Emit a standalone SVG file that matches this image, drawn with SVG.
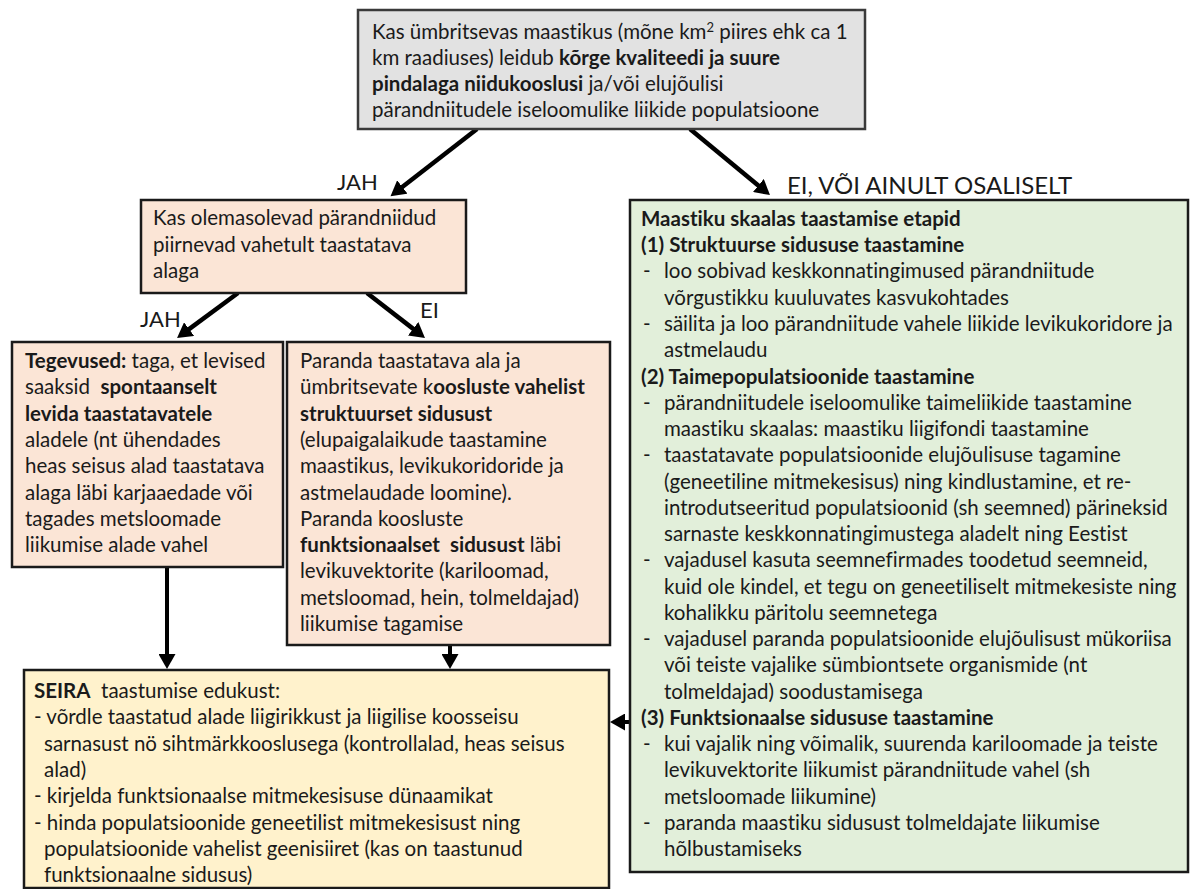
<svg xmlns="http://www.w3.org/2000/svg" width="1199" height="889" viewBox="0 0 1199 889">
  <style>
    text { font-family: Lato, "Open Sans", "Liberation Sans", sans-serif; font-size: 20.5px; fill: #1a1a1a; font-variant-ligatures: none; }
    .b { font-weight: bold; }
    .lbl { font-size: 22px; }
    .lbl-big { font-size: 24px; }
    .box { stroke: #1a1a1a; stroke-width: 2.5; }
    .gray { fill: #e2e2e2; stroke: #3a3a3a; stroke-width: 2.5; }
    .peach { fill: #fbe5d6; }
    .green { fill: #e2efda; }
    .yellow { fill: #fff2cc; }
    .conn { stroke: #000; stroke-width: 4.5; fill: none; marker-end: url(#head); }
    .conn-v { stroke: #000; stroke-width: 4; fill: none; marker-end: url(#head); }
  </style>
  <defs>
    <marker id="head" markerUnits="userSpaceOnUse" markerWidth="16" markerHeight="17" refX="3" refY="8.5" orient="auto">
      <path d="M0,0 L15,8.5 L0,17 z" fill="#000"/>
    </marker>
  </defs>

  <rect width="1199" height="889" fill="#ffffff"/>

  <!-- connectors -->
  <g id="connectors">
    <line class="conn" x1="477" y1="129" x2="400" y2="188.8"/>
    <line class="conn" x1="690" y1="129" x2="760.7" y2="187.4"/>
    <line class="conn" x1="238" y1="293" x2="186.7" y2="330.9"/>
    <line class="conn" x1="367" y1="293" x2="415.5" y2="330.6"/>
    <line class="conn-v" x1="167" y1="567" x2="167" y2="657"/>
    <line class="conn-v" x1="450" y1="645" x2="450" y2="657"/>
    <line class="conn-v" x1="630" y1="722" x2="622" y2="722"/>
    <text class="lbl" x="337" y="190">JAH</text>
    <text class="lbl-big" x="787" y="194">EI, VÕI AINULT OSALISELT</text>
    <text class="lbl" x="140" y="327">JAH</text>
    <text class="lbl" x="420" y="318">EI</text>
  </g>

  <!-- starting question -->
  <g id="q-landscape">
    <rect class="gray" x="358" y="10" width="507" height="119"/>
    <text x="372" y="39">Kas ümbritsevas maastikus (mõne km<tspan font-size="13" dy="-7">2</tspan><tspan dy="7"> piires ehk ca 1</tspan></text>
    <text x="372" y="65">km raadiuses) leidub <tspan class="b">kõrge kvaliteedi ja suure</tspan></text>
    <text x="372" y="91"><tspan class="b">pindalaga niidukooslusi</tspan> ja/või elujõulisi</text>
    <text x="372" y="117">pärandniitudele iseloomulike liikide populatsioone</text>
  </g>

  <!-- follow-up question -->
  <g id="q-adjacent">
    <rect class="box peach" x="141" y="200" width="325" height="93"/>
    <text x="153" y="225">Kas olemasolevad pärandniidud</text>
    <text x="153" y="252">piirnevad vahetult taastatava</text>
    <text x="153" y="278">alaga</text>
  </g>

  <!-- actions: adjacent -->
  <g id="act-spontaneous">
    <rect class="box peach" x="12" y="342" width="271" height="225"/>
    <text x="25" y="368"><tspan class="b">Tegevused:</tspan> taga, et levised</text>
    <text x="25" y="394" xml:space="preserve">saaksid  <tspan class="b">spontaanselt</tspan></text>
    <text x="25" y="421" class="b">levida taastatavatele</text>
    <text x="25" y="447">aladele (nt ühendades</text>
    <text x="25" y="473">heas seisus alad taastatava</text>
    <text x="25" y="500">alaga läbi karjaaedade või</text>
    <text x="25" y="526">tagades metsloomade</text>
    <text x="25" y="552">liikumise alade vahel</text>
  </g>

  <!-- actions: not adjacent -->
  <g id="act-connectivity">
    <rect class="box peach" x="287" y="342" width="323" height="303"/>
    <text x="300" y="368">Paranda taastatava ala ja</text>
    <text x="300" y="394">ümbritsevate k<tspan class="b">oosluste vahelist</tspan></text>
    <text x="300" y="421" class="b">struktuurset sidusust</text>
    <text x="300" y="447">(elupaigalaikude taastamine</text>
    <text x="300" y="473">maastikus, levikukoridoride ja</text>
    <text x="300" y="500">astmelaudade loomine).</text>
    <text x="300" y="526">Paranda koosluste</text>
    <text x="300" y="552" xml:space="preserve"><tspan class="b">funktsionaalset  sidusust</tspan> läbi</text>
    <text x="300" y="578">levikuvektorite (kariloomad,</text>
    <text x="300" y="605">metsloomad, hein, tolmeldajad)</text>
    <text x="300" y="631">liikumise tagamise</text>
  </g>

  <!-- landscape-scale steps -->
  <g id="act-landscape">
    <rect class="box green" x="630" y="200" width="558" height="672"/>
    <text x="641" y="226" class="b">Maastiku skaalas taastamise etapid</text>
    <text x="641" y="252" class="b">(1) Struktuurse sidususe taastamine</text>
    <text x="643" y="278">-</text>
    <text x="664" y="278">loo sobivad keskkonnatingimused pärandniitude</text>
    <text x="664" y="305">võrgustikku kuuluvates kasvukohtades</text>
    <text x="643" y="331">-</text>
    <text x="664" y="331">säilita ja loo pärandniitude vahele liikide levikukoridore ja</text>
    <text x="664" y="357">astmelaudu</text>
    <text x="641" y="384" class="b">(2) Taimepopulatsioonide taastamine</text>
    <text x="643" y="410">-</text>
    <text x="664" y="410">pärandniitudele iseloomulike taimeliikide taastamine</text>
    <text x="664" y="436">maastiku skaalas: maastiku liigifondi taastamine</text>
    <text x="643" y="462">-</text>
    <text x="664" y="462">taastatavate populatsioonide elujõulisuse tagamine</text>
    <text x="664" y="489">(geneetiline mitmekesisus) ning kindlustamine, et re-</text>
    <text x="664" y="515">introdutseeritud populatsioonid (sh seemned) pärineksid</text>
    <text x="664" y="541">sarnaste keskkonnatingimustega aladelt ning Eestist</text>
    <text x="643" y="567">-</text>
    <text x="664" y="567">vajadusel kasuta seemnefirmades toodetud seemneid,</text>
    <text x="664" y="594">kuid ole kindel, et tegu on geneetiliselt mitmekesiste ning</text>
    <text x="664" y="620">kohalikku päritolu seemnetega</text>
    <text x="643" y="646">-</text>
    <text x="664" y="646">vajadusel paranda populatsioonide elujõulisust mükoriisa</text>
    <text x="664" y="672">või teiste vajalike sümbiontsete organismide (nt</text>
    <text x="664" y="699">tolmeldajad) soodustamisega</text>
    <text x="641" y="725" class="b">(3) Funktsionaalse sidususe taastamine</text>
    <text x="643" y="751">-</text>
    <text x="664" y="751">kui vajalik ning võimalik, suurenda kariloomade ja teiste</text>
    <text x="664" y="777">levikuvektorite liikumist pärandniitude vahel (sh</text>
    <text x="664" y="804">metsloomade liikumine)</text>
    <text x="643" y="830">-</text>
    <text x="664" y="830">paranda maastiku sidusust tolmeldajate liikumise</text>
    <text x="664" y="856">hõlbustamiseks</text>
  </g>

  <!-- monitoring -->
  <g id="monitor">
    <rect class="box yellow" x="24" y="670" width="585" height="218"/>
    <text x="34" y="698" xml:space="preserve"><tspan class="b">SEIRA</tspan>  taastumise edukust:</text>
    <text x="34" y="724">- võrdle taastatud alade liigirikkust ja liigilise koosseisu</text>
    <text x="44" y="751">sarnasust nö sihtmärkkooslusega (kontrollalad, heas seisus</text>
    <text x="44" y="777">alad)</text>
    <text x="34" y="803">- kirjelda funktsionaalse mitmekesisuse dünaamikat</text>
    <text x="34" y="830">- hinda populatsioonide geneetilist mitmekesisust ning</text>
    <text x="44" y="856">populatsioonide vahelist geenisiiret (kas on taastunud</text>
    <text x="44" y="882">funktsionaalne sidusus)</text>
  </g>
</svg>
